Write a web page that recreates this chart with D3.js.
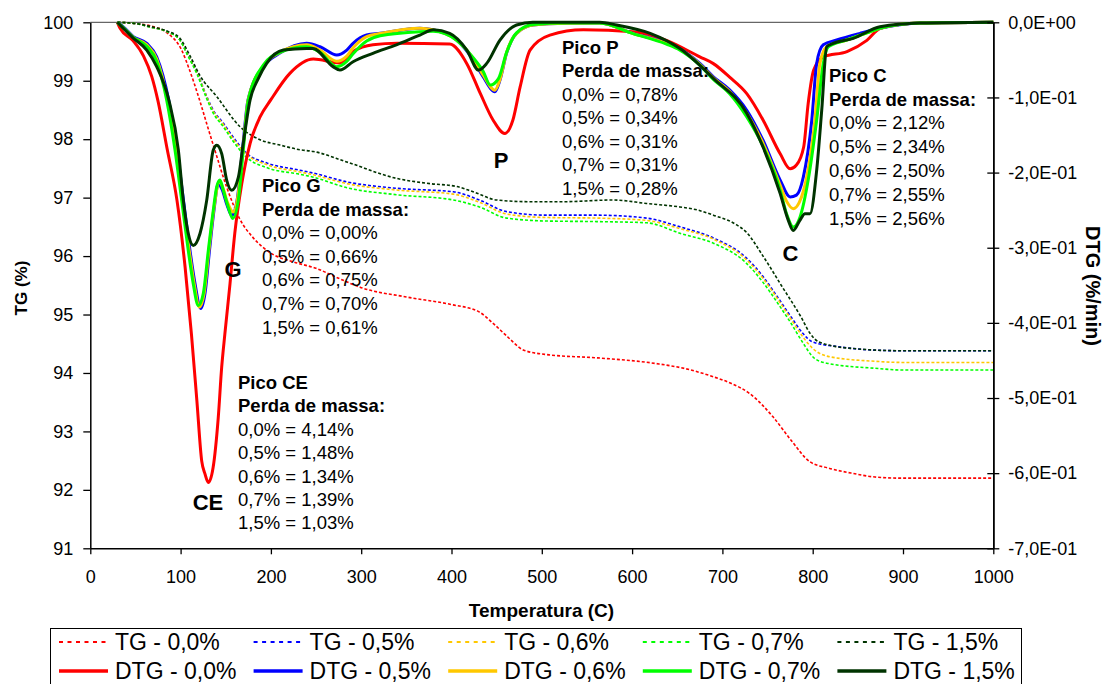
<!DOCTYPE html>
<html>
<head>
<meta charset="utf-8">
<title>TG / DTG</title>
<style>
  body { margin: 0; background: #fff; }
  svg text { font-family: "Liberation Sans", Arial, sans-serif; fill: #000; }
</style>
</head>
<body>
<script src="https://cdn.jsdelivr.net/npm/d3@7"></script>
<script>
// ---- dados ----
// TG (%) -- eixo esquerdo
var tTG00 = [30,50,66,85,101,110,121,130,138,151,166,180,200,225,250,275,300,350,400,430,446,462,480,508,560,627,660,689,710,730,756,776,797,818,845,869,900,1000];
var tg00  = [100,99.98,99.94,99.82,99.53,99.18,98.67,98.21,97.81,97.18,96.62,96.32,96.05,95.90,95.79,95.62,95.46,95.30,95.17,95.05,94.85,94.62,94.39,94.31,94.26,94.16,94.07,93.94,93.82,93.65,93.25,92.85,92.48,92.37,92.28,92.22,92.20,92.20];

var tTG05 = [30,50,66,85,99,108,118,129,136,147,158,173,196,232,247,284,339,402,431,461,505,561,616,653,690,725,745,761,776,789,800,828,869,900,1000];
var tg05  = [100,99.98,99.92,99.84,99.70,99.44,99.15,98.73,98.50,98.28,98.04,97.76,97.59,97.47,97.42,97.27,97.16,97.10,96.96,96.76,96.70,96.70,96.65,96.50,96.31,95.99,95.65,95.30,94.96,94.68,94.53,94.45,94.39,94.38,94.38];

var tTG06 = [30,50,66,85,99,108,118,129,136,147,158,173,196,232,247,284,339,402,431,461,505,561,616,653,690,725,745,761,776,789,800,818,869,900,1000];
var tg06  = [100,99.98,99.92,99.84,99.70,99.44,99.14,98.72,98.48,98.26,98.01,97.74,97.56,97.44,97.39,97.24,97.13,97.06,96.92,96.72,96.66,96.65,96.61,96.47,96.29,95.96,95.62,95.27,94.92,94.62,94.42,94.28,94.20,94.18,94.18];

var tTG07 = [30,50,66,85,99,108,118,129,136,147,158,173,196,232,247,284,339,402,431,461,505,561,616,653,690,725,745,761,776,789,802,818,869,900,1000];
var tg07  = [100,99.98,99.92,99.84,99.70,99.43,99.12,98.69,98.45,98.22,97.97,97.69,97.51,97.40,97.35,97.17,97.05,96.96,96.84,96.65,96.60,96.59,96.57,96.39,96.22,95.90,95.55,95.20,94.85,94.52,94.25,94.16,94.08,94.05,94.05];

var tTG15 = [30,50,66,85,99,110,121,140,166,188,210,232,247,284,339,376,406,424,450,487,524,579,616,653,672,690,714,727,745,766,787,797,807,843,900,1000];
var tg15  = [100,99.98,99.93,99.85,99.73,99.44,99.10,98.73,98.21,97.99,97.90,97.82,97.79,97.61,97.33,97.24,97.19,97.10,96.96,96.93,96.93,96.96,96.90,96.84,96.79,96.70,96.55,96.40,96.00,95.48,94.96,94.68,94.53,94.42,94.38,94.38];

// DTG (%/min) -- eixo direito
var tDTG00 = [30,33,47,59,68,75,85,96,105,112,118,123.4,127,130.7,136,141.7,145.5,149,154.7,160,167.7,177,188,200,221,247,276,291,313,340,398,417,432,446,459,468,476,487,509,546,601,638,675,690,708,727,745,764,775,782,790,795,801,812,838,860,875,919,1000];
var dtg00  = [0,-0.008,-0.024,-0.045,-0.072,-0.105,-0.168,-0.237,-0.326,-0.415,-0.503,-0.584,-0.601,-0.6125,-0.5925,-0.526,-0.459,-0.415,-0.348,-0.281,-0.215,-0.161,-0.126,-0.103,-0.068,-0.049,-0.054,-0.039,-0.030,-0.028,-0.029,-0.055,-0.095,-0.130,-0.148,-0.130,-0.086,-0.037,-0.017,-0.010,-0.0125,-0.024,-0.046,-0.055,-0.073,-0.095,-0.130,-0.175,-0.195,-0.190,-0.166,-0.108,-0.064,-0.046,-0.039,-0.024,-0.008,-0.001,0];

var tDTG05 = [30,36.5,47.6,62.5,73.5,86.8,96,103.2,110.4,116,122.3,127,132,137,141.7,145.8,151.4,156.6,162.5,168.5,174.6,191.6,210,239.6,254.4,273,284,291,306,321,365,379.5,405.7,424,435,448,453.7,461,472,490.6,527.6,564,601,638,653,675,690,708,727,745,764,775,782,789.6,799,804.4,811.7,826.6,852.4,874.5,919,1000];
var dtg05  = [0,-0.006,-0.019,-0.028,-0.046,-0.1036,-0.170,-0.237,-0.3036,-0.348,-0.381,-0.361,-0.3036,-0.250,-0.2147,-0.222,-0.243,-0.257,-0.237,-0.170,-0.1036,-0.059,-0.041,-0.028,-0.0325,-0.0436,-0.037,-0.028,-0.017,-0.0147,-0.008,-0.010,-0.0236,-0.050,-0.0725,-0.0925,-0.077,-0.041,-0.0147,-0.0036,-0.0013,-0.001,-0.0147,-0.0276,-0.0356,-0.0547,-0.0725,-0.090,-0.117,-0.157,-0.210,-0.2325,-0.230,-0.206,-0.130,-0.0547,-0.030,-0.0236,-0.0147,-0.008,-0.001,0];

var tDTG06 = [30,36.5,47.6,62.5,73.5,85.5,95,102,109.5,115,120.9,126,131.3,136.6,143,146.5,152,158.4,163,169,174.8,191.6,210,239.6,254.4,273,284,291,306,321,365,379.5,405.7,424,435,448,453.7,461,472,490.6,527.6,564,601,638,653,675,690,708,727,745,764,771,778.5,785,793.4,802.5,808,815.5,837.6,860,874.5,919,1000];
var dtg06  = [0,-0.007,-0.020,-0.030,-0.049,-0.1036,-0.170,-0.237,-0.3036,-0.348,-0.379,-0.361,-0.3036,-0.250,-0.2125,-0.219,-0.240,-0.2525,-0.235,-0.170,-0.1036,-0.058,-0.040,-0.030,-0.037,-0.052,-0.045,-0.034,-0.019,-0.015,-0.008,-0.010,-0.0236,-0.048,-0.070,-0.0903,-0.076,-0.040,-0.0147,-0.0036,-0.0013,-0.001,-0.015,-0.028,-0.036,-0.056,-0.074,-0.092,-0.121,-0.161,-0.217,-0.238,-0.248,-0.240,-0.206,-0.130,-0.0547,-0.0325,-0.0236,-0.014,-0.008,-0.001,0];

var tDTG07 = [30,36.5,47.6,62.5,73.5,84.6,93.8,101.2,108.5,114,119.6,125.1,130.7,136.2,140,143.6,147.3,152.8,157.7,163.9,169.4,175,191.6,210,239.6,254.4,273,284,291,306,321,365,379.5,405.7,424,435,443,452,461,472,490.6,527.6,564,601,638,653,675,690,708,727,745,764,771,778.5,786,795,804.4,811.7,817.3,837.6,860,874.5,919,1000];
var dtg07  = [0,-0.007,-0.020,-0.032,-0.052,-0.1036,-0.170,-0.237,-0.3036,-0.348,-0.377,-0.361,-0.3036,-0.250,-0.219,-0.210,-0.2236,-0.246,-0.261,-0.237,-0.170,-0.1036,-0.057,-0.040,-0.0325,-0.040,-0.059,-0.052,-0.042,-0.025,-0.018,-0.0125,-0.012,-0.024,-0.047,-0.065,-0.0836,-0.075,-0.040,-0.014,-0.003,-0.001,-0.001,-0.015,-0.029,-0.037,-0.057,-0.076,-0.095,-0.126,-0.165,-0.2236,-0.2547,-0.2725,-0.259,-0.210,-0.130,-0.0547,-0.0325,-0.0236,-0.014,-0.008,-0.001,0];

var tDTG15 = [30,36.5,47.6,62.5,73.5,87,97.5,103,108.5,114,121.5,128.9,136.2,140,145.5,151,156.6,164,169.4,176.9,186,195.3,213.7,239.6,246.6,268.8,276.5,291,313,339,365,380,398,417,430,439,453.7,472,490,564,583,620,653,690,727,745,764,773,778.5,785.8,791.4,797,804.4,810,815.5,822.8,845,874.5,919,1000];
var dtg15  = [0,-0.008,-0.021,-0.037,-0.059,-0.1036,-0.170,-0.237,-0.281,-0.297,-0.281,-0.237,-0.170,-0.1636,-0.1747,-0.210,-0.2236,-0.206,-0.161,-0.1036,-0.075,-0.0547,-0.037,-0.0347,-0.0347,-0.059,-0.0636,-0.0525,-0.0413,-0.030,-0.017,-0.010,-0.0147,-0.037,-0.0636,-0.0547,-0.0236,-0.0036,0,0,-0.0036,-0.0147,-0.035,-0.0747,-0.121,-0.166,-0.228,-0.2636,-0.277,-0.2636,-0.2547,-0.2547,-0.197,-0.117,-0.0325,-0.028,-0.0213,-0.006,-0.001,0];

// ticks
var xTicks = [0,100,200,300,400,500,600,700,800,900,1000];
var yLeftTicks = [91,92,93,94,95,96,97,98,99,100];
var yRightTicks = [0,-0.1,-0.2,-0.3,-0.4,-0.5,-0.6,-0.7];

// legenda / series
var seriesNames = ["TG - 0,0%","TG - 0,5%","TG - 0,6%","TG - 0,7%","TG - 1,5%",
                   "DTG - 0,0%","DTG - 0,5%","DTG - 0,6%","DTG - 0,7%","DTG - 1,5%"];
var colors = ["#FF0000","#0000FF","#FFC800","#00FF00","#003300"];

// anotacoes dos picos
var picoCE = ["Pico CE","Perda de massa:","0,0% = 4,14%","0,5% = 1,48%","0,6% = 1,34%","0,7% = 1,39%","1,5% = 1,03%"];
var picoG  = ["Pico G","Perda de massa:","0,0% = 0,00%","0,5% = 0,66%","0,6% = 0,75%","0,7% = 0,70%","1,5% = 0,61%"];
var picoP  = ["Pico P","Perda de massa:","0,0% = 0,78%","0,5% = 0,34%","0,6% = 0,31%","0,7% = 0,31%","1,5% = 0,28%"];
var picoC  = ["Pico C","Perda de massa:","0,0% = 2,12%","0,5% = 2,34%","0,6% = 2,50%","0,7% = 2,55%","1,5% = 2,56%"];

// ---- desenho ----
var W = 1110, H = 684;
var svg = d3.select('body').append('svg').attr('width', W).attr('height', H);

// area do grafico (nomes proprios: "top" e reservado no window)
var pL = 90.3, pR = 993.3, pT = 22.3, pB = 548.3;
var x = d3.scaleLinear().domain([0, 1000]).range([pL, pR]);
var yL = d3.scaleLinear().domain([91, 100]).range([pB, pT]);
var yR = d3.scaleLinear().domain([-0.7, 0]).range([pB, pT]);

// moldura superior da area do grafico
svg.append('line')
  .attr('x1', pL).attr('x2', pR).attr('y1', pT).attr('y2', pT)
  .attr('stroke', '#404040').attr('stroke-width', 1);

var series = [];
var tgT = [tTG00, tTG05, tTG06, tTG07, tTG15], tgV = [tg00, tg05, tg06, tg07, tg15];
var dtT = [tDTG00, tDTG05, tDTG06, tDTG07, tDTG15], dtV = [dtg00, dtg05, dtg06, dtg07, dtg15];
tgT.forEach(function(ts, i) {
  series.push({name: seriesNames[i], color: colors[i], dotted: true, y: yL,
               pts: ts.map(function(t, k){ return [t, tgV[i][k]]; })});
});
dtT.forEach(function(ts, i) {
  series.push({name: seriesNames[5 + i], color: colors[i], dotted: false, y: yR,
               pts: ts.map(function(t, k){ return [t, dtV[i][k]]; })});
});

series.forEach(function(s) {
  var line = d3.line()
    .x(function(d){ return x(d[0]); })
    .y(function(d){ return s.y(d[1]); })
    .curve(d3.curveMonotoneX);
  svg.append('path')
    .datum(s.pts)
    .attr('d', line)
    .attr('fill', 'none')
    .attr('stroke', s.color)
    .attr('stroke-width', s.dotted ? 1.6 : 3)
    .attr('stroke-dasharray', s.dotted ? '3,2' : null)
    .attr('stroke-linejoin', 'round');
});

// eixos
var axL = svg.append('g').attr('transform', 'translate(' + pL + ',0)')
  .call(d3.axisLeft(yL).tickValues(yLeftTicks).tickSize(7).tickSizeOuter(0).tickPadding(10).tickFormat(d3.format('d')));
var axR = svg.append('g').attr('transform', 'translate(' + pR + ',0)')
  .call(d3.axisRight(yR).tickValues(yRightTicks).tickSize(6).tickSizeOuter(0).tickPadding(9)
    .tickFormat(function(v){ return v === 0 ? '0,0E+00' : '-' + (Math.abs(v) * 10).toFixed(1).replace('.', ',') + 'E-01'; }));
var axRin = svg.append('g').attr('transform', 'translate(' + pR + ',0)')
  .call(d3.axisRight(yR).tickValues(yRightTicks).tickSize(-6).tickSizeOuter(0).tickFormat(''));
var axB = svg.append('g').attr('transform', 'translate(0,' + pB + ')')
  .call(d3.axisBottom(x).tickValues(xTicks).tickSize(6).tickSizeOuter(0).tickPadding(16).tickFormat(d3.format('d')));

[axL, axR, axRin, axB].forEach(function(g) {
  g.selectAll('path.domain').attr('stroke', '#000').attr('stroke-width', 1.5);
  g.selectAll('line').attr('stroke', '#000').attr('stroke-width', 1.3);
  g.selectAll('text').attr('font-size', 18).attr('font-family', '"Liberation Sans", Arial, sans-serif').attr('fill', '#000');
});

// titulos dos eixos
svg.append('text').attr('x', 541.5).attr('y', 617).attr('text-anchor', 'middle')
  .attr('font-size', 19).attr('font-weight', 'bold').text('Temperatura (C)');
svg.append('text').attr('transform', 'translate(27,288) rotate(-90)').attr('text-anchor', 'middle')
  .attr('font-size', 17).attr('font-weight', 'bold').text('TG (%)');
svg.append('text').attr('transform', 'translate(1086,286) rotate(90)').attr('text-anchor', 'middle')
  .attr('font-size', 20).attr('font-weight', 'bold').text('DTG (%/min)');

// blocos de anotacao
function bloco(lines, x0, y0, step) {
  var g = svg.append('g');
  lines.forEach(function(l, k) {
    g.append('text').attr('x', x0).attr('y', y0 + k * step)
      .attr('font-size', 18.5).attr('font-weight', k < 2 ? 'bold' : 'normal').text(l);
  });
}
bloco(picoCE, 238, 389, 23.4);
bloco(picoG, 262, 192, 23.6);
bloco(picoP, 562, 53.5, 23.5);
bloco(picoC, 829, 81.7, 23.8);

var picos = [["CE", 208, 510], ["G", 233, 277], ["P", 501, 168], ["C", 790.5, 261]];
picos.forEach(function(p) {
  svg.append('text').attr('x', p[1]).attr('y', p[2]).attr('text-anchor', 'middle')
    .attr('font-size', 22).attr('font-weight', 'bold').text(p[0]);
});

// legenda
svg.append('rect').attr('x', 50.5).attr('y', 628.5).attr('width', 971).attr('height', 70)
  .attr('fill', '#fff').attr('stroke', '#000').attr('stroke-width', 1);
series.forEach(function(s, k) {
  var col = k % 5, row = Math.floor(k / 5);
  var sx = 59 + col * 194.6;
  var ly = row === 0 ? 642 : 671;
  svg.append('line').attr('x1', sx).attr('x2', sx + 49).attr('y1', ly).attr('y2', ly)
    .attr('stroke', s.color)
    .attr('stroke-width', s.dotted ? 2 : 3.5)
    .attr('stroke-dasharray', s.dotted ? '4,4.5' : null);
  svg.append('text').attr('x', sx + 56).attr('y', row === 0 ? 650 : 678.5)
    .attr('font-size', 23).text(s.name);
});
</script>
</body>
</html>
